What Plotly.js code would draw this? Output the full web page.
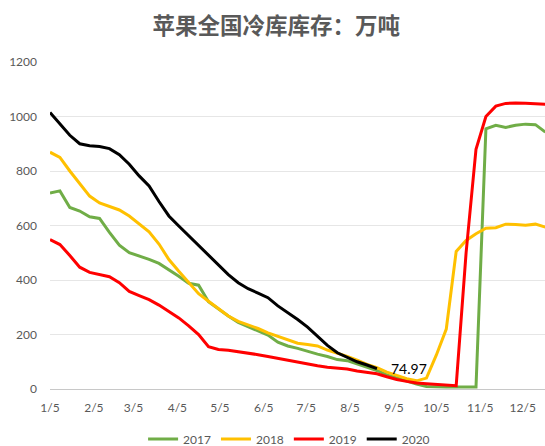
<!DOCTYPE html>
<html>
<head>
<meta charset="utf-8">
<script src="https://cdn.plot.ly/plotly-3.0.1.min.js"></script>
<style>html,body{margin:0;padding:0;background:#fff;}#chart{width:545px;height:446px;}</style>
</head>
<body>
<div id="chart"></div>
<script>
// Weekly observation dates (shared calendar axis, month/day)
var weeks = [
  '2019-01-05','2019-01-12','2019-01-19','2019-01-26','2019-02-02','2019-02-09','2019-02-16','2019-02-23',
  '2019-03-02','2019-03-09','2019-03-16','2019-03-23','2019-03-30','2019-04-06','2019-04-13','2019-04-20',
  '2019-04-27','2019-05-04','2019-05-11','2019-05-18','2019-05-25','2019-06-01','2019-06-08','2019-06-15',
  '2019-06-22','2019-06-29','2019-07-06','2019-07-13','2019-07-20','2019-07-27','2019-08-03','2019-08-10',
  '2019-08-17','2019-08-24','2019-08-31','2019-09-07','2019-09-14','2019-09-21','2019-09-28','2019-10-05',
  '2019-10-12','2019-10-19','2019-10-26','2019-11-02','2019-11-09','2019-11-16','2019-11-23','2019-11-30',
  '2019-12-07','2019-12-14','2019-12-21'
];

var s2017 = [719,727,666,653,632,626,575,528,500,488,476,461,438,414,388,381,
  320,293,268,244,229,213,198,172,158,149,138,128,119,108,104,92,
  82,68,52,40,28,18,9,7,7,7,7,7,955,968,960,968,972,970,943];

var s2018 = [869,850,800,752,708,683,670,657,635,605,577,532,475,432,392,350,
  322,295,268,248,236,222,206,193,180,168,163,158,143,132,120,106,
  90,78,62,50,38,30,40,125,220,505,545,570,590,592,605,604,601,605,594];

var s2019 = [548,530,490,447,428,420,412,390,358,343,328,308,283,261,232,200,
  155,145,142,137,130,126,119,112,107,100,92,85,80,77,73,66,
  60,56,45,35,28,22,19,16,13,12,500,880,1000,1038,1048,1050,1049,1047,1045];

var s2020 = [1015,973,931,900,893,890,882,860,825,782,745,688,635,598,562,525,
  492,453,420,390,368,352,335,305,281,255,227,195,160,133,116,100,
  88,74.97];

var seriesNames = ['2017','2018','2019','2020'];
var seriesColors = ['#70AD47','#FFC000','#FF0000','#000000'];
var seriesData = [s2017, s2018, s2019, s2020];

var tickDates = ['2019-01-05','2019-02-05','2019-03-05','2019-04-05','2019-05-05','2019-06-05',
  '2019-07-05','2019-08-05','2019-09-05','2019-10-05','2019-11-05','2019-12-05'];
var tickLabels = ['1/5','2/5','3/5','4/5','5/5','6/5','7/5','8/5','9/5','10/5','11/5','12/5'];
var yTicks = [0,200,400,600,800,1000,1200];

var lastLabel = '74.97';

var traces = seriesData.map(function(d, i) {
  return {
    x: weeks.slice(0, d.length),
    y: d,
    name: seriesNames[i],
    type: 'scatter',
    mode: 'lines',
    line: {color: seriesColors[i], width: 3},
    hoverinfo: 'skip'
  };
});

var layout = {
  width: 545,
  height: 446,
  margin: {l: 50, r: 0, t: 62, b: 57, autoexpand: false},
  paper_bgcolor: '#ffffff',
  plot_bgcolor: '#ffffff',
  font: {family: 'Lato, "Liberation Sans", sans-serif', color: '#595959', size: 12},
  title: {
    text: '<b>苹果全国冷库库存：万吨</b>',
    font: {family: '"Noto Sans CJK SC", sans-serif', size: 22.5, color: '#595959'},
    x: 0.507, xanchor: 'center',
    y: 1 - 26/446, yref: 'container', yanchor: 'middle'
  },
  xaxis: {
    type: 'date',
    range: ['2019-01-05', '2019-12-20 18:00'],
    tickmode: 'array',
    tickvals: tickDates,
    ticktext: tickLabels,
    showgrid: false,
    zeroline: false,
    showline: false,
    ticks: '',
    ticklabelstandoff: 10,
    tickfont: {size: 12, color: '#595959'},
    fixedrange: true
  },
  yaxis: {
    range: [0, 1200],
    tickmode: 'array',
    tickvals: yTicks,
    showgrid: true,
    gridcolor: '#e6e6e6',
    gridwidth: 1,
    zeroline: true,
    zerolinecolor: '#c8c8c8',
    zerolinewidth: 1,
    showline: false,
    ticks: '',
    ticklabelstandoff: 12,
    tickfont: {size: 12, color: '#595959'},
    fixedrange: true
  },
  showlegend: true,
  legend: {
    orientation: 'h',
    x: 0.483, xanchor: 'center',
    y: -0.153, yanchor: 'middle',
    font: {size: 12, color: '#595959'},
    itemwidth: 30,
    traceorder: 'normal'
  },
  annotations: [{
    x: weeks[s2020.length - 1],
    y: s2020[s2020.length - 1],
    text: lastLabel,
    showarrow: false,
    xanchor: 'left',
    yanchor: 'middle',
    xshift: 12,
    font: {size: 14, color: '#000000'}
  }]
};

Plotly.newPlot('chart', traces, layout, {displayModeBar: false, staticPlot: true});
</script>
</body>
</html>
